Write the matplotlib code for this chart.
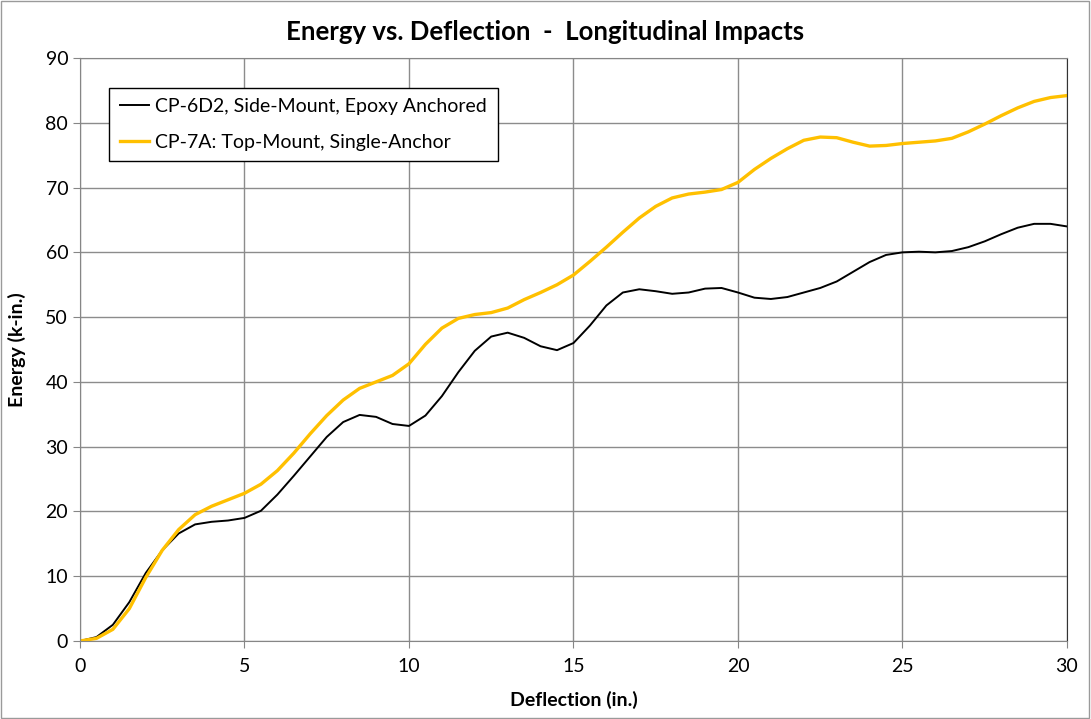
import matplotlib
matplotlib.use("Agg")
import matplotlib.pyplot as plt
from matplotlib.patches import Rectangle

# valori (deflessione in pollici, energia in k-in.)
defl = [0, 0.5, 1, 1.5, 2, 2.5, 3, 3.5, 4, 4.5, 5, 5.5, 6, 6.5, 7, 7.5, 8, 8.5, 9, 9.5,
        10, 10.5, 11, 11.5, 12, 12.5, 13, 13.5, 14, 14.5, 15, 15.5, 16, 16.5, 17, 17.5,
        18, 18.5, 19, 19.5, 20, 20.5, 21, 21.5, 22, 22.5, 23, 23.5, 24, 24.5, 25, 25.5,
        26, 26.5, 27, 27.5, 28, 28.5, 29, 29.5, 30]

cp6d2 = [0, 0.6, 2.5, 6.0, 10.5, 14.0, 16.6, 18.0, 18.4, 18.6, 19.0, 20.1, 22.6, 25.5,
         28.5, 31.5, 33.8, 34.9, 34.6, 33.5, 33.2, 34.8, 37.8, 41.5, 44.8, 47.0, 47.6,
         46.8, 45.5, 44.9, 46.0, 48.7, 51.8, 53.8, 54.3, 54.0, 53.6, 53.8, 54.4, 54.5,
         53.8, 53.0, 52.8, 53.1, 53.8, 54.5, 55.5, 57.0, 58.5, 59.6, 60.0, 60.1, 60.0,
         60.2, 60.8, 61.7, 62.8, 63.8, 64.4, 64.4, 64.0]

cp7a = [0, 0.4, 1.8, 5.0, 9.8, 14.0, 17.2, 19.5, 20.8, 21.8, 22.8, 24.2, 26.3, 29.0,
        32.0, 34.8, 37.2, 39.0, 40.0, 41.0, 42.8, 45.8, 48.3, 49.8, 50.4, 50.7, 51.4,
        52.7, 53.8, 55.0, 56.5, 58.6, 60.8, 63.1, 65.3, 67.1, 68.4, 69.0, 69.3, 69.7,
        70.8, 72.8, 74.5, 76.0, 77.3, 77.8, 77.7, 77.0, 76.4, 76.5, 76.8, 77.0, 77.2,
        77.6, 78.6, 79.8, 81.1, 82.3, 83.3, 83.9, 84.2]

x_ticks = [0, 5, 10, 15, 20, 25, 30]
y_ticks = [0, 10, 20, 30, 40, 50, 60, 70, 80, 90]

plt.rcParams['font.family'] = ['Lato', 'DejaVu Sans']

fig = plt.figure(figsize=(10.91, 7.19), dpi=100)
ax = fig.add_axes([0.0733, 0.1085, 0.9047, 0.8108])

# bordo esterno del grafico
fig.patches.append(Rectangle((0.001, 0.001), 0.997, 0.997, transform=fig.transFigure,
                             fill=False, edgecolor='#9a9a9a', linewidth=1))

ax.plot(defl, cp6d2, color='black', linewidth=1.4, solid_joinstyle='round',
        label='CP-6D2, Side-Mount, Epoxy Anchored')
ax.plot(defl, cp7a, color='#FFC000', linewidth=2.4, solid_joinstyle='round',
        label='CP-7A: Top-Mount, Single-Anchor')

ax.set_xlim(0, 30)
ax.set_ylim(0, 90)
ax.set_xticks(x_ticks)
ax.set_yticks(y_ticks)
ax.grid(True, color='#8c8c8c', linewidth=1)
ax.set_axisbelow(True)

for s in ax.spines.values():
    s.set_color('#868686')
ax.spines['right'].set_color('#333333')
ax.tick_params(axis='both', direction='out', length=5, color='#868686', labelsize=14)
ax.tick_params(axis='x', pad=7)

ax.set_xlabel('Deflection (in.)', fontsize=14, fontweight='bold', labelpad=12)
ax.set_ylabel('Energy (k-in.)', fontsize=14, fontweight='bold', labelpad=14)
# titolo centrato sulla figura, non sugli assi
fig.text(0.5, 0.955, 'Energy vs. Deflection  -  Longitudinal Impacts', fontsize=18.5,
         fontweight='bold', ha='center', va='center')

leg = ax.legend(loc='upper left', bbox_to_anchor=(0.02, 0.966), fontsize=14,
                fancybox=False, framealpha=1, edgecolor='black', handlelength=1.5,
                handletextpad=0.3, borderpad=0.55, labelspacing=0.95)
leg.get_frame().set_linewidth(1)

plt.savefig('out.png', dpi=100)
